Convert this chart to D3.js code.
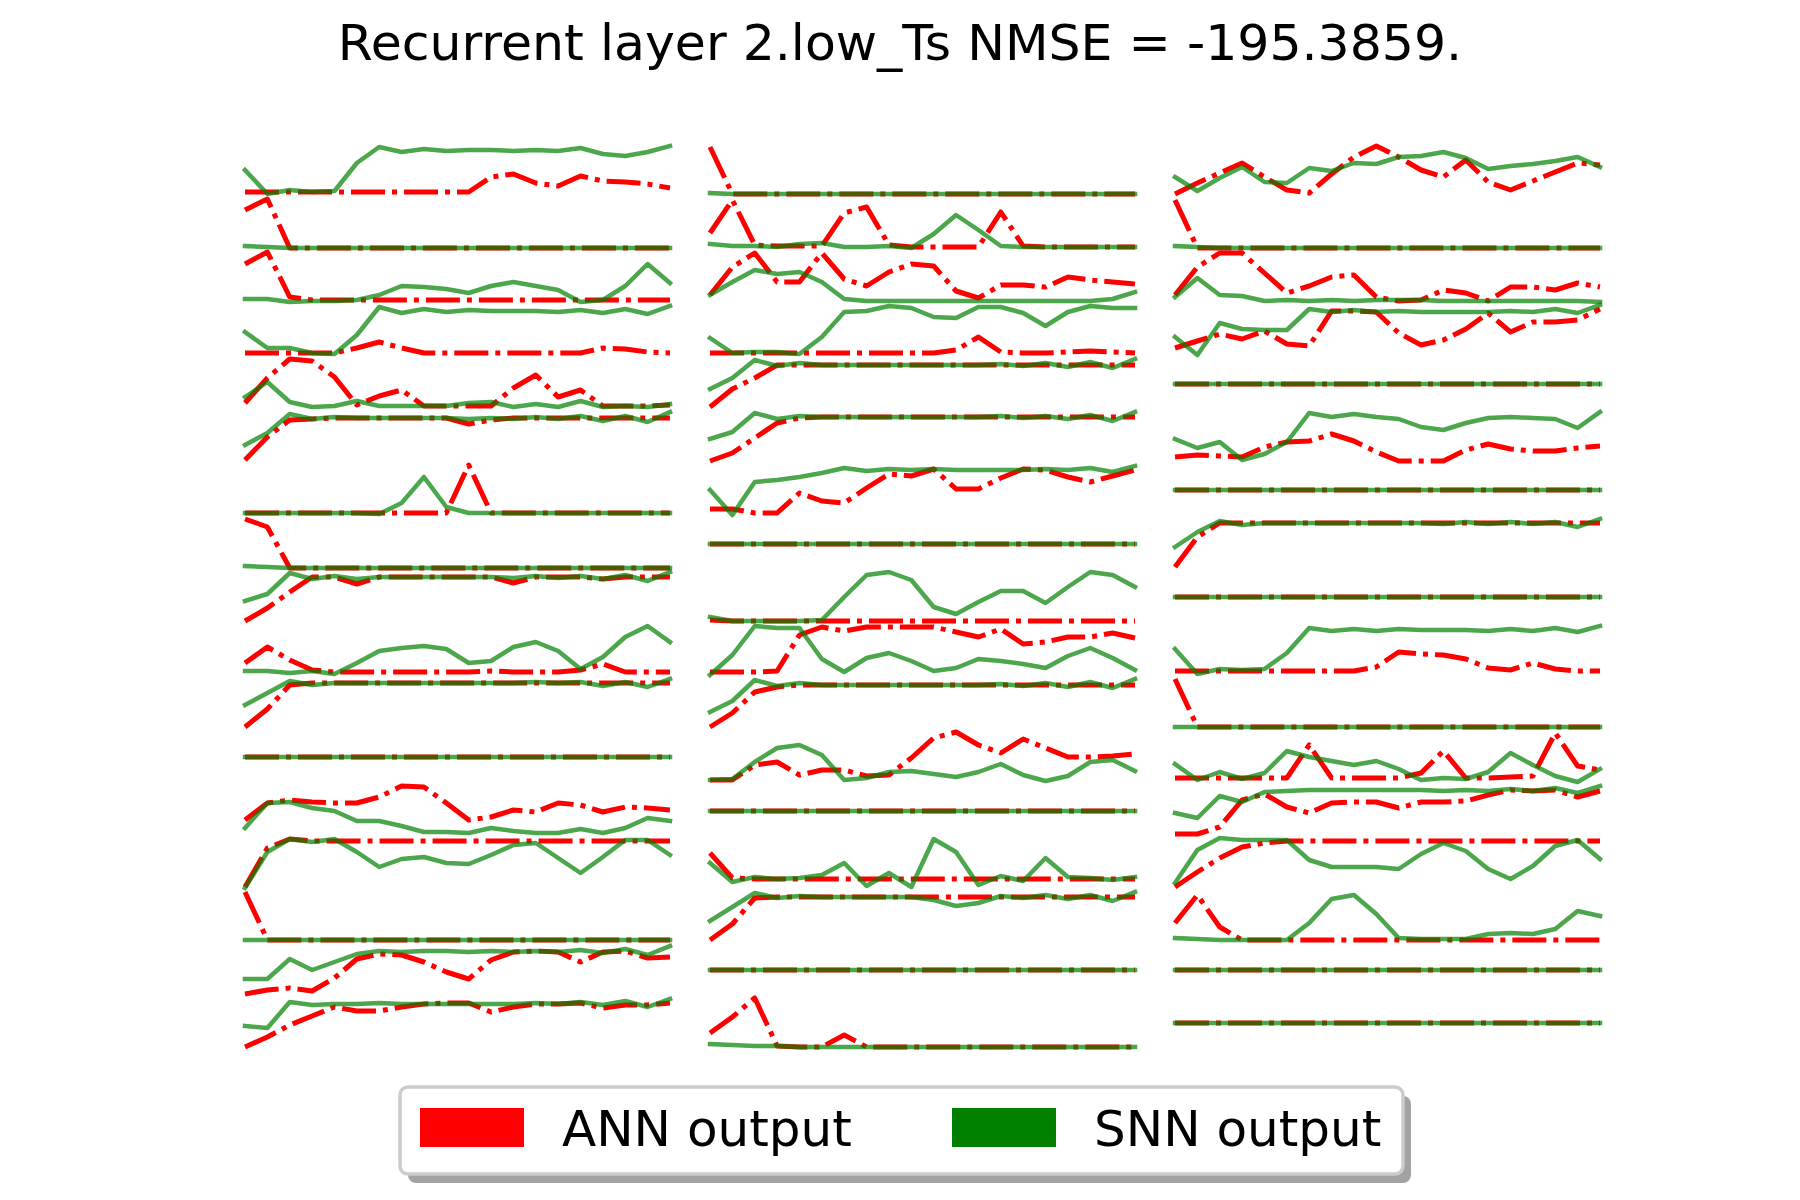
<!DOCTYPE html>
<meta charset="utf-8">
<style>
body { margin: 0; background: #fff; }
text { font-family: "DejaVu Sans", sans-serif; }
.ann { fill: none; stroke: red; stroke-width: 5px; stroke-dasharray: 34,7,5,7; stroke-linecap: butt; stroke-linejoin: round; }
.snn { fill: none; stroke: green; stroke-opacity: 0.7; stroke-width: 4.5px; stroke-linecap: square; stroke-linejoin: round; }
</style>
<body>
<script src="https://d3js.org/d3.v7.min.js"></script>
<script>

var title = "Recurrent layer 2.low_Ts NMSE = -195.3859.";
var seriesNames = ["ANN output", "SNN output"];
var timeSteps = [0,1,2,3,4,5,6,7,8,9,10,11,12,13,14,15,16,17,18,19];

// stacked outputs, one row per neuron, first subplot
var annCol1 = [
  [86.8,86.8,86.8,86.8,86.8,86.8,86.8,86.8,86.8,86.8,86.8,88.3,88.6,87.7,87.4,88.4,87.9,87.8,87.6,87.2],
  [85.0,86.1,81.2,81.2,81.2,81.2,81.2,81.2,81.2,81.2,81.2,81.2,81.2,81.2,81.2,81.2,81.2,81.2,81.2,81.2],
  [79.6,80.8,76.3,76.0,76.0,76.0,76.0,76.0,76.0,76.0,76.0,76.0,76.0,76.0,76.0,76.0,76.0,76.0,76.0,76.0],
  [70.7,70.7,70.7,70.7,70.7,71.2,71.8,71.2,70.7,70.7,70.7,70.7,70.7,70.7,70.7,70.7,71.2,71.1,70.8,70.7],
  [65.7,68.2,70.1,69.9,68.3,65.5,66.4,67.0,65.4,65.4,65.4,65.4,67.2,68.5,66.3,67.0,65.4,65.4,65.4,65.5],
  [60.0,62.3,64.0,64.1,64.2,64.2,64.2,64.2,64.2,64.2,63.6,64.0,64.2,64.2,64.2,64.2,64.2,64.2,64.2,64.2],
  [54.7,54.7,54.7,54.7,54.7,54.7,54.7,54.7,54.7,54.7,59.5,54.7,54.7,54.7,54.7,54.7,54.7,54.7,54.7,54.7],
  [54.1,53.3,49.2,49.2,49.2,49.2,49.2,49.2,49.2,49.2,49.2,49.2,49.2,49.2,49.2,49.2,49.2,49.2,49.2,49.2],
  [43.9,45.2,46.8,48.3,48.3,47.6,48.3,48.3,48.3,48.3,48.3,48.3,47.7,48.3,48.3,48.3,48.1,48.3,48.3,48.3],
  [39.7,41.3,40.0,39.0,38.8,38.8,38.8,38.8,38.8,38.8,38.8,38.9,38.8,38.8,38.8,39.0,39.6,38.8,38.8,38.8],
  [33.3,35.1,37.5,37.7,37.7,37.7,37.7,37.7,37.7,37.7,37.7,37.7,37.7,37.7,37.7,37.7,37.7,37.7,37.7,37.7],
  [30.3,30.3,30.3,30.3,30.3,30.3,30.3,30.3,30.3,30.3,30.3,30.3,30.3,30.3,30.3,30.3,30.3,30.3,30.3,30.3],
  [24.0,25.7,26.0,25.8,25.7,25.7,26.3,27.4,27.3,25.7,24.0,24.3,25.0,24.8,25.7,25.5,24.8,25.3,25.2,25.0],
  [17.3,21.2,22.1,21.9,21.9,21.9,21.9,21.9,21.9,21.9,21.9,21.9,21.9,21.9,21.9,21.9,21.9,21.9,21.9,21.9],
  [16.8,12.0,12.0,12.0,12.0,12.0,12.0,12.0,12.0,12.0,12.0,12.0,12.0,12.0,12.0,12.0,12.0,12.0,12.0,12.0],
  [6.6,7.0,7.2,6.9,8.2,10.1,10.6,10.5,9.8,8.8,8.1,10.0,10.8,10.9,10.8,9.8,10.8,10.9,10.2,10.3],
  [1.3,2.3,3.5,4.4,5.3,4.9,4.9,5.3,5.6,5.7,5.7,4.8,5.3,5.6,5.6,5.7,5.2,5.5,5.5,5.7]
];
var snnCol1 = [
  [89.0,86.6,87.0,86.8,86.9,89.7,91.3,90.8,91.1,90.9,91.0,91.0,90.9,91.0,90.9,91.2,90.6,90.4,90.8,91.4],
  [81.4,81.3,81.2,81.2,81.2,81.2,81.2,81.2,81.2,81.2,81.2,81.2,81.2,81.2,81.2,81.2,81.2,81.2,81.2,81.2],
  [76.1,76.1,75.8,75.9,75.9,76.0,76.5,77.4,77.3,77.1,76.7,77.4,77.8,77.4,77.0,75.8,76.0,77.4,79.6,77.7],
  [72.8,71.2,71.2,70.7,70.6,72.5,75.3,74.7,75.1,74.8,75.0,74.9,74.9,74.9,74.8,75.0,74.7,75.1,74.6,75.4],
  [66.3,67.8,65.8,65.3,65.4,65.9,65.4,65.4,65.4,65.4,65.7,65.8,65.3,65.6,65.3,65.9,65.3,65.4,65.3,65.6],
  [61.5,62.7,64.6,64.1,64.3,64.2,64.2,64.2,64.2,64.2,64.1,64.2,64.1,64.3,64.1,64.4,63.9,64.4,63.8,64.8],
  [54.7,54.7,54.7,54.7,54.7,54.7,54.6,55.7,58.3,55.3,54.7,54.7,54.7,54.7,54.7,54.7,54.7,54.7,54.7,54.7],
  [49.4,49.3,49.2,49.2,49.2,49.2,49.2,49.2,49.2,49.2,49.2,49.2,49.2,49.2,49.2,49.2,49.2,49.2,49.2,49.2],
  [45.9,46.6,48.7,48.1,48.4,48.1,48.3,48.3,48.3,48.3,48.3,48.3,48.2,48.4,48.2,48.4,48.1,48.5,47.9,48.8],
  [38.9,38.9,38.7,38.9,38.6,39.7,40.9,41.2,41.4,41.1,39.7,39.9,41.3,41.8,40.9,39.1,40.3,42.3,43.4,41.8],
  [35.5,36.7,37.9,37.5,37.7,37.7,37.7,37.7,37.7,37.7,37.7,37.7,37.7,37.8,37.7,37.8,37.4,37.8,37.3,38.1],
  [30.3,30.3,30.3,30.3,30.3,30.3,30.3,30.3,30.3,30.3,30.3,30.3,30.3,30.3,30.3,30.3,30.3,30.3,30.3,30.3],
  [23.2,25.7,25.8,25.2,24.9,23.9,23.9,23.4,22.8,22.8,22.7,23.2,22.9,22.7,22.7,23.1,22.7,23.2,24.2,23.9],
  [17.2,20.8,22.1,21.8,22.1,20.8,19.3,20.1,20.3,19.7,19.6,20.5,21.5,21.7,20.2,18.7,20.3,22.0,22.0,20.5],
  [12.0,12.0,12.0,12.0,12.0,12.0,12.0,12.0,12.0,12.0,12.0,12.0,12.0,12.0,12.0,12.0,12.0,12.0,12.0,12.0],
  [8.1,8.1,10.1,9.0,9.8,10.6,10.9,10.8,10.9,10.9,10.8,10.9,10.8,10.9,10.8,11.0,10.7,11.1,10.5,11.4],
  [3.4,3.2,5.8,5.5,5.6,5.6,5.7,5.6,5.6,5.6,5.6,5.6,5.6,5.7,5.6,5.8,5.5,5.9,5.3,6.1]
];

// second subplot
var annCol2 = [
  [91.3,86.6,86.6,86.6,86.6,86.6,86.6,86.6,86.6,86.6,86.6,86.6,86.6,86.6,86.6,86.6,86.6,86.6,86.6,86.6],
  [82.7,86.0,81.5,81.4,81.4,81.4,84.7,85.3,81.5,81.3,81.3,81.3,81.3,84.8,81.4,81.3,81.3,81.3,81.3,81.3],
  [76.5,79.3,80.7,77.8,77.8,80.7,78.1,77.4,78.8,79.6,79.4,76.9,76.2,77.5,77.5,77.3,78.3,78.0,77.8,77.6],
  [70.7,70.7,70.7,70.7,70.7,70.7,70.7,70.7,70.7,70.7,70.7,71.0,72.3,70.8,70.7,70.7,70.8,70.9,70.8,70.7],
  [65.3,67.1,68.2,69.5,69.5,69.5,69.5,69.5,69.5,69.5,69.5,69.5,69.5,69.5,69.5,69.5,69.5,69.5,69.5,69.5],
  [59.9,60.7,62.2,63.7,64.2,64.3,64.3,64.3,64.3,64.3,64.3,64.3,64.3,64.3,64.3,64.3,64.3,64.3,64.3,64.3],
  [55.1,55.1,54.7,54.7,56.7,55.9,55.7,57.2,58.6,58.4,59.1,57.1,57.1,58.2,59.1,59.0,58.3,57.8,58.4,59.0],
  [51.6,51.6,51.6,51.6,51.6,51.6,51.6,51.6,51.6,51.6,51.6,51.6,51.6,51.6,51.6,51.6,51.6,51.6,51.6,51.6],
  [44.0,43.9,43.9,43.9,43.9,43.9,43.9,43.9,43.9,43.9,43.9,43.9,43.9,43.9,43.9,43.9,43.9,43.9,43.9,43.9],
  [38.8,38.8,38.8,38.9,42.5,43.3,42.9,43.3,43.3,43.3,43.3,42.8,42.3,43.1,41.6,41.8,42.3,42.3,42.7,42.2],
  [33.3,34.7,36.8,37.3,37.5,37.5,37.5,37.5,37.5,37.5,37.5,37.5,37.5,37.5,37.5,37.5,37.5,37.5,37.5,37.5],
  [28.0,28.0,29.5,29.8,28.5,29.0,29.0,28.4,28.5,30.2,32.2,32.8,31.5,30.7,32.1,31.2,30.3,30.3,30.4,30.6],
  [24.9,24.9,24.9,24.9,24.9,24.9,24.9,24.9,24.9,24.9,24.9,24.9,24.9,24.9,24.9,24.9,24.9,24.9,24.9,24.9],
  [20.7,18.2,18.1,18.1,18.1,18.1,18.1,18.1,18.1,18.1,18.1,18.1,18.1,18.1,18.1,18.1,18.1,18.1,18.1,18.1],
  [12.0,13.6,16.2,16.3,16.3,16.3,16.3,16.3,16.3,16.3,16.3,16.3,16.3,16.3,16.3,16.3,16.3,16.3,16.3,16.3],
  [9.0,9.0,9.0,9.0,9.0,9.0,9.0,9.0,9.0,9.0,9.0,9.0,9.0,9.0,9.0,9.0,9.0,9.0,9.0,9.0],
  [2.7,4.3,6.2,1.4,1.3,1.3,2.5,1.3,1.3,1.3,1.3,1.3,1.3,1.3,1.3,1.3,1.3,1.3,1.3,1.3]
];
var snnCol2 = [
  [86.7,86.6,86.6,86.6,86.6,86.6,86.6,86.6,86.6,86.6,86.6,86.6,86.6,86.6,86.6,86.6,86.6,86.6,86.6,86.6],
  [81.6,81.4,81.4,81.3,81.6,81.7,81.3,81.3,81.4,81.2,82.6,84.5,83.0,81.4,81.3,81.3,81.3,81.3,81.3,81.3],
  [76.5,77.8,79.0,78.6,78.8,77.8,76.1,75.9,75.9,75.9,75.9,75.9,75.9,75.9,75.9,75.9,75.9,75.9,76.1,76.8],
  [72.2,70.7,70.8,70.8,70.6,72.3,74.8,74.9,75.4,75.2,74.3,74.2,75.3,75.3,74.7,73.4,74.8,75.4,75.2,75.2],
  [67.1,68.2,70.0,69.4,69.7,69.5,69.5,69.5,69.5,69.5,69.5,69.5,69.5,69.6,69.4,69.7,69.3,69.8,69.2,70.1],
  [62.1,62.8,64.7,64.1,64.4,64.3,64.3,64.3,64.3,64.3,64.3,64.3,64.3,64.4,64.2,64.4,64.1,64.5,63.9,64.8],
  [57.0,54.5,57.8,58.0,58.3,58.7,59.2,58.9,59.1,59.0,59.1,59.0,59.0,59.0,59.0,59.1,59.0,59.2,58.8,59.4],
  [51.6,51.6,51.6,51.6,51.6,51.6,51.6,51.6,51.6,51.6,51.6,51.6,51.6,51.6,51.6,51.6,51.6,51.6,51.6,51.6],
  [44.3,43.9,43.9,43.9,43.9,44.0,46.3,48.5,48.8,48.0,45.3,44.6,45.8,46.9,46.9,45.7,47.3,48.8,48.5,47.3],
  [38.5,40.5,43.4,43.2,43.2,40.1,38.8,40.2,40.7,39.9,38.9,39.2,40.1,39.9,39.6,39.2,40.4,41.2,40.2,39.0],
  [34.8,35.9,38.0,37.4,37.7,37.5,37.5,37.5,37.5,37.5,37.5,37.5,37.5,37.6,37.4,37.7,37.3,37.8,37.2,38.1],
  [28.0,28.1,29.8,31.2,31.5,30.5,28.0,28.2,28.8,28.9,28.6,28.3,28.8,29.6,28.5,27.9,28.4,29.8,30.0,28.9],
  [24.9,24.9,24.9,24.9,24.9,24.9,24.9,24.9,24.9,24.9,24.9,24.9,24.9,24.9,24.9,24.9,24.9,24.9,24.9,24.9],
  [19.7,17.8,18.3,18.1,18.2,18.5,19.7,17.4,18.7,17.3,22.1,20.8,17.5,18.4,17.9,20.2,18.3,18.2,18.0,18.3],
  [13.9,15.3,16.7,16.2,16.4,16.3,16.3,16.3,16.3,16.3,16.0,15.4,15.7,16.4,16.2,16.5,16.1,16.5,15.9,16.8],
  [9.0,9.0,9.0,9.0,9.0,9.0,9.0,9.0,9.0,9.0,9.0,9.0,9.0,9.0,9.0,9.0,9.0,9.0,9.0,9.0],
  [1.6,1.5,1.4,1.4,1.3,1.3,1.3,1.3,1.3,1.3,1.3,1.3,1.3,1.3,1.3,1.3,1.3,1.3,1.3,1.3]
];

// third subplot
var annCol3 = [
  [86.6,87.7,88.7,89.7,88.3,87.0,86.7,88.6,90.3,91.4,90.3,89.0,88.3,90.0,87.8,87.0,87.9,88.8,89.7,89.5],
  [86.0,81.2,81.2,81.2,81.2,81.2,81.2,81.2,81.2,81.2,81.2,81.2,81.2,81.2,81.2,81.2,81.2,81.2,81.2,81.2],
  [76.5,79.3,80.7,80.7,78.7,76.7,77.4,78.3,78.5,76.3,75.9,76.0,77.0,76.7,75.9,77.3,77.3,77.0,77.7,77.3],
  [71.2,71.9,72.6,72.1,72.9,71.6,71.4,74.9,74.9,74.8,72.7,71.5,72.0,73.1,74.7,72.8,73.8,73.8,74.0,75.1],
  [67.6,67.6,67.6,67.6,67.6,67.6,67.6,67.6,67.6,67.6,67.6,67.6,67.6,67.6,67.6,67.6,67.6,67.6,67.6,67.6],
  [60.3,60.5,60.4,60.3,61.3,61.8,61.9,62.6,61.9,60.8,59.9,59.9,59.9,61.0,61.6,61.1,60.9,60.9,61.2,61.4],
  [57.0,57.0,57.0,57.0,57.0,57.0,57.0,57.0,57.0,57.0,57.0,57.0,57.0,57.0,57.0,57.0,57.0,57.0,57.0,57.0],
  [49.3,52.3,53.7,53.7,53.7,53.7,53.7,53.7,53.7,53.7,53.7,53.7,53.7,53.7,53.7,53.7,53.7,53.7,53.7,53.7],
  [46.3,46.3,46.3,46.3,46.3,46.3,46.3,46.3,46.3,46.3,46.3,46.3,46.3,46.3,46.3,46.3,46.3,46.3,46.3,46.3],
  [38.9,38.9,38.9,38.9,38.9,38.9,38.9,38.9,38.9,39.3,40.8,40.6,40.5,40.1,39.2,39.0,39.7,39.1,38.9,38.9],
  [38.1,33.3,33.3,33.3,33.3,33.3,33.3,33.3,33.3,33.3,33.3,33.3,33.3,33.3,33.3,33.3,33.3,33.3,33.3,33.3],
  [28.2,28.2,28.2,28.2,28.2,28.2,31.5,28.2,28.2,28.2,28.2,28.7,30.9,28.2,28.2,28.3,28.4,32.7,29.4,29.0],
  [22.6,22.6,23.3,26.0,26.6,25.3,24.7,25.7,25.8,25.8,25.2,25.8,25.8,25.9,26.5,27.0,26.9,27.0,26.3,26.9],
  [17.3,18.8,20.2,21.3,21.7,21.9,21.9,21.9,21.9,21.9,21.9,21.9,21.9,21.9,21.9,21.9,21.9,21.9,21.9,21.9],
  [13.7,16.5,13.3,12.0,12.0,12.0,12.0,12.0,12.0,12.0,12.0,12.0,12.0,12.0,12.0,12.0,12.0,12.0,12.0,12.0],
  [9.0,9.0,9.0,9.0,9.0,9.0,9.0,9.0,9.0,9.0,9.0,9.0,9.0,9.0,9.0,9.0,9.0,9.0,9.0,9.0],
  [3.7,3.7,3.7,3.7,3.7,3.7,3.7,3.7,3.7,3.7,3.7,3.7,3.7,3.7,3.7,3.7,3.7,3.7,3.7,3.7]
];
var snnCol3 = [
  [88.3,86.9,88.2,89.3,87.8,87.7,89.2,88.9,89.7,89.6,90.3,90.4,90.8,90.2,89.1,89.4,89.6,89.9,90.3,89.3],
  [81.4,81.3,81.2,81.2,81.2,81.2,81.2,81.2,81.2,81.2,81.2,81.2,81.2,81.2,81.2,81.2,81.2,81.2,81.2,81.2],
  [76.3,78.2,76.5,76.4,75.9,76.0,75.9,76.0,75.9,76.0,76.0,76.0,75.9,75.9,75.9,75.9,75.9,75.9,75.9,75.8],
  [72.3,70.5,73.7,73.1,73.0,73.0,75.1,74.8,75.0,74.8,74.9,74.8,74.8,74.8,74.8,74.9,74.8,75.1,74.7,75.5],
  [67.6,67.6,67.6,67.6,67.6,67.6,67.6,67.6,67.6,67.6,67.6,67.6,67.6,67.6,67.6,67.6,67.6,67.6,67.6,67.6],
  [62.1,61.2,61.8,60.0,60.6,61.8,64.7,64.3,64.6,64.3,64.1,63.3,63.0,63.7,64.2,64.3,64.2,64.1,63.2,64.8],
  [57.0,57.0,57.0,57.0,57.0,57.0,57.0,57.0,57.0,57.0,57.0,57.0,57.0,57.0,57.0,57.0,57.0,57.0,57.0,57.0],
  [51.3,52.8,53.9,53.5,53.7,53.7,53.7,53.7,53.7,53.7,53.7,53.7,53.6,53.8,53.6,53.8,53.6,53.8,53.3,54.1],
  [46.3,46.3,46.3,46.3,46.3,46.3,46.3,46.3,46.3,46.3,46.3,46.3,46.3,46.3,46.3,46.3,46.3,46.3,46.3,46.3],
  [41.1,38.6,39.1,39.0,39.1,40.7,43.2,42.9,43.1,42.9,43.1,43.0,43.0,43.0,42.9,43.1,42.9,43.2,42.8,43.4],
  [33.3,33.3,33.3,33.3,33.3,33.3,33.3,33.3,33.3,33.3,33.3,33.3,33.3,33.3,33.3,33.3,33.3,33.3,33.3,33.3],
  [29.6,28.0,28.8,28.1,28.7,30.9,30.3,29.9,29.5,29.9,29.1,28.0,28.2,28.1,28.8,30.7,29.5,28.4,27.8,29.1],
  [24.7,24.2,26.4,25.8,26.8,26.9,27.0,27.0,27.0,27.0,27.0,27.0,26.9,27.0,26.9,27.1,26.9,27.2,26.7,27.4],
  [17.7,21.0,22.2,22.0,22.0,22.0,20.0,19.3,19.3,19.3,19.1,20.6,21.7,20.9,19.1,18.1,19.4,21.4,22.0,20.1],
  [12.2,12.1,12.0,12.0,12.0,12.0,13.7,16.1,16.5,14.6,12.2,12.1,12.1,12.1,12.6,12.7,12.6,13.1,14.9,14.4],
  [9.0,9.0,9.0,9.0,9.0,9.0,9.0,9.0,9.0,9.0,9.0,9.0,9.0,9.0,9.0,9.0,9.0,9.0,9.0,9.0],
  [3.7,3.7,3.7,3.7,3.7,3.7,3.7,3.7,3.7,3.7,3.7,3.7,3.7,3.7,3.7,3.7,3.7,3.7,3.7,3.7]
];

var panels = [
  {ann: annCol1, snn: snnCol1},
  {ann: annCol2, snn: snnCol2},
  {ann: annCol3, snn: snnCol3}
];

var width = 1800, height = 1200;
var svg = d3.select("body").append("svg").attr("width", width).attr("height", height);

svg.append("text").attr("x", 900).attr("y", 60)
  .style("font-size", "50.5px").style("text-anchor", "middle")
  .text(title);

// three axes side by side, axis lines switched off
var axWidth = 465;
var y = d3.scaleLinear().domain([0, 100]).range([1060, 60]);

panels.forEach(function(p, c){
  var x = d3.scaleLinear().domain([0, 19]).range([245 + c*axWidth, 670 + c*axWidth]);
  var line = d3.line()
    .x(function(d, i){ return x(timeSteps[i]); })
    .y(function(d){ return y(d); });

  var g = svg.append("g").attr("class", "panel");
  p.ann.forEach(function(row, k){
    g.append("path").attr("class", "ann").attr("d", line(row));
    g.append("path").attr("class", "snn").attr("d", line(p.snn[k]));
  });
});

// legend
var lg = svg.append("g");
lg.append("rect").attr("x", 408).attr("y", 1096).attr("width", 1003).attr("height", 87)
  .attr("rx", 8).style("fill", "#a3a3a3");
lg.append("rect").attr("x", 400).attr("y", 1087).attr("width", 1003).attr("height", 87)
  .attr("rx", 8).style("fill", "#fff").style("stroke", "#cccccc").style("stroke-width", 3.5);

var legendColors = ["red", "green"];
var legendX = [420, 952];
seriesNames.forEach(function(name, i){
  lg.append("rect").attr("x", legendX[i]).attr("y", 1108).attr("width", 104).attr("height", 39)
    .style("fill", legendColors[i]);
  lg.append("text").attr("x", legendX[i] + 142).attr("y", 1146)
    .style("font-size", "50px").text(name);
});

</script>
</body>
